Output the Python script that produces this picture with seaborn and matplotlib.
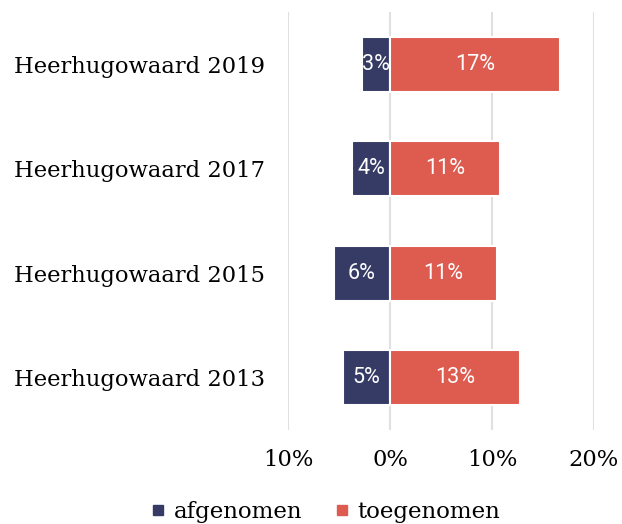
import matplotlib
matplotlib.use("Agg")
import matplotlib.pyplot as plt
import seaborn as sns
import pandas as pd
from matplotlib.lines import Line2D

categories = ["Heerhugowaard 2019", "Heerhugowaard 2017", "Heerhugowaard 2015", "Heerhugowaard 2013"]
afgenomen = [2.7, 3.7, 5.5, 4.6]
toegenomen = [16.7, 10.8, 10.5, 12.7]
afgenomen_labels = ["3%", "4%", "6%", "5%"]
toegenomen_labels = ["17%", "11%", "11%", "13%"]
xticks = [-10, 0, 10, 20]
xtick_labels = ["10%", "0%", "10%", "20%"]

navy = "#363B66"
red = "#DE5B50"

sns.set_theme(style="white")
plt.rcParams['font.family'] = ['DejaVu Serif']
plt.rcParams['text.color'] = 'black'
plt.rcParams['xtick.color'] = 'black'
plt.rcParams['ytick.color'] = 'black'

rows = []
for c, a, t in zip(categories, afgenomen, toegenomen):
    rows.append({"cat": c, "serie": "afgenomen", "val": -a})
    rows.append({"cat": c, "serie": "toegenomen", "val": t})
df = pd.DataFrame(rows)

fig = plt.figure(figsize=(6.22, 5.24), dpi=100)
ax = fig.add_axes([288/622, (524-430)/524, 306/622, 418/524])

sns.barplot(data=df, y="cat", x="val", hue="serie", order=categories,
            hue_order=["afgenomen", "toegenomen"], palette=[navy, red],
            saturation=1, dodge=False, orient="h", width=0.53, edgecolor="white",
            linewidth=1.5, legend=False, ax=ax, zorder=3)

ax.set_xlim(-10, 20)
ax.set_ylim(3.5, -0.5)
ax.set_xticks(xticks)
ax.set_xticklabels(xtick_labels, fontsize=16.3)
ax.tick_params(axis="y", labelsize=16.3, pad=16.5, length=0)
ax.tick_params(axis="x", pad=14, length=0)
ax.set_xlabel("")
ax.set_ylabel("")
for s in ax.spines.values():
    s.set_visible(False)
ax.grid(False)
for x in xticks:
    ax.axvline(x, color="#e0e0e0", lw=1.5, zorder=1)

for i, (a, t) in enumerate(zip(afgenomen, toegenomen)):
    ax.text(-a / 2, i, afgenomen_labels[i], ha="center", va="center", color="white",
            fontsize=15.5, family=["Roboto", "DejaVu Sans"], zorder=5)
    ax.text(t / 2, i, toegenomen_labels[i], ha="center", va="center", color="white",
            fontsize=15.5, family=["Roboto", "DejaVu Sans"], zorder=5)

handles = [Line2D([], [], marker="s", ls="", color=navy, markersize=7),
           Line2D([], [], marker="s", ls="", color=red, markersize=7)]
fig.legend(handles, ["afgenomen", "toegenomen"], loc="center", bbox_to_anchor=(0.52, 12/524),
           ncol=2, frameon=False, fontsize=16.5, handletextpad=0.2, columnspacing=1.2,
           handlelength=1.0)

fig.savefig("out.png", dpi=100)
